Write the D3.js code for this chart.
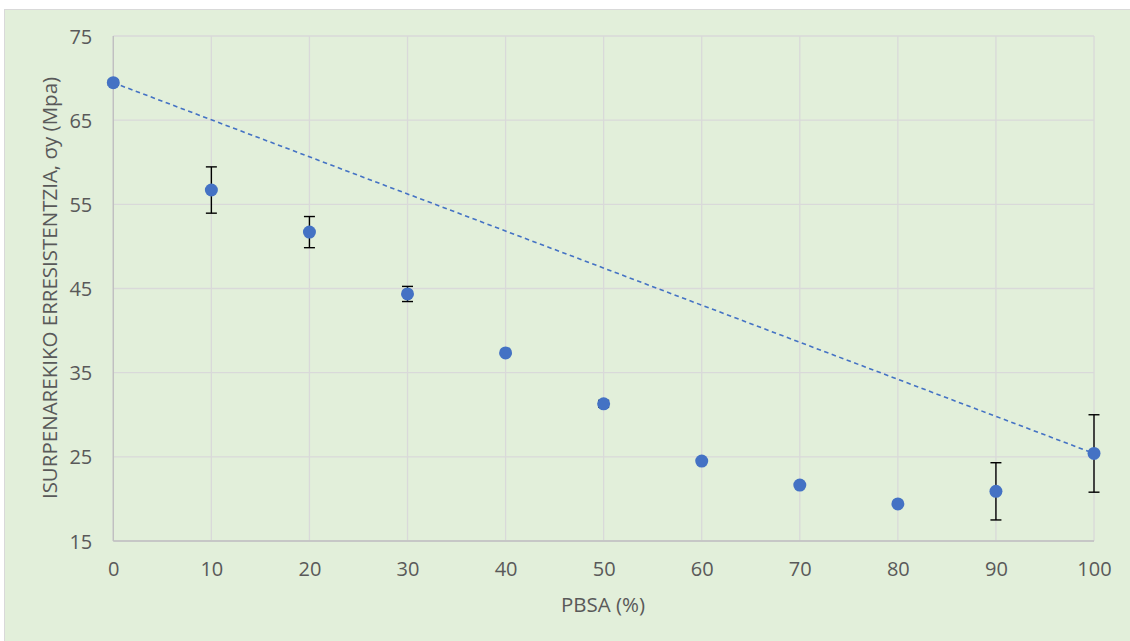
<!DOCTYPE html>
<html><head><meta charset="utf-8">
<script src="https://cdn.jsdelivr.net/npm/d3@7"></script>
<style>body{margin:0;background:#fff;} text{font-family:"Open Sans",Lato,sans-serif;}</style>
</head><body>
<svg id="c" width="1130" height="641"></svg>
<script>
const pbsa = [0,10,20,30,40,50,60,70,80,90,100];
const strength = [69.45,56.7,51.7,44.35,37.35,31.3,24.5,21.65,19.4,20.9,25.4];
const errors = [0.3,2.75,1.85,0.9,0.2,0.4,0,0,0,3.4,4.6];
const trendX = [0,100];
const trendY = [69.45,25.4];
const xTicks = [0,10,20,30,40,50,60,70,80,90,100];
const yTicks = [15,25,35,45,55,65,75];

const svg = d3.select("#c");
svg.append("rect").attr("x",4.5).attr("y",9.5).attr("width",1130).attr("height",640)
  .attr("fill","#E2EFDA").attr("stroke","#D9D9D9");

const L=113.3,R=1094,T=36,B=541;
const x=d3.scaleLinear().domain([0,100]).range([L,R]);
const y=d3.scaleLinear().domain([15,75]).range([B,T]);

const g=svg.append("g");
g.selectAll(".gy").data(yTicks).join("line").attr("x1",L).attr("x2",R)
  .attr("y1",d=>y(d)).attr("y2",d=>y(d)).attr("stroke","#D9D9D9").attr("stroke-width",1.3);
g.selectAll(".gx").data(xTicks).join("line").attr("y1",T).attr("y2",B)
  .attr("x1",d=>x(d)).attr("x2",d=>x(d)).attr("stroke","#D9D9D9").attr("stroke-width",1.3);
g.append("line").attr("x1",L).attr("x2",R).attr("y1",B).attr("y2",B).attr("stroke","#BFBFBF").attr("stroke-width",1.3);
g.append("line").attr("x1",L).attr("x2",L).attr("y1",T).attr("y2",B).attr("stroke","#BFBFBF").attr("stroke-width",1.3);

const xAxis=d3.axisBottom(x).tickValues(xTicks).tickSize(0).tickPadding(0);
const ax=svg.append("g").attr("transform",`translate(0,${B})`).call(xAxis);
ax.select(".domain").remove();
ax.selectAll("text").attr("font-size",20).attr("fill","#595959").attr("font-family","Open Sans,sans-serif")
  .attr("dy",null).attr("y",35);
const yAxis=d3.axisLeft(y).tickValues(yTicks).tickSize(0).tickPadding(21);
const ay=svg.append("g").attr("transform",`translate(${L},0)`).call(yAxis);
ay.select(".domain").remove();
ay.selectAll("text").attr("font-size",20).attr("fill","#595959").attr("font-family","Open Sans,sans-serif")
  .attr("dy",null).attr("y",7);

const tl=trendX.map((d,i)=>[d,trendY[i]]);
svg.append("path").datum(tl).attr("d",d3.line().x(d=>x(d[0])).y(d=>y(d[1])))
  .attr("stroke","#4472C4").attr("stroke-width",1.6).attr("stroke-dasharray","4.5,3.5").attr("fill","none");

const data=pbsa.map((d,i)=>({x:d,y:strength[i],e:errors[i]}));
const eb=svg.append("g").attr("stroke","#000").attr("stroke-width",1.4);
data.filter(d=>d.e>0).forEach(d=>{
  eb.append("line").attr("x1",x(d.x)).attr("x2",x(d.x)).attr("y1",y(d.y-d.e)).attr("y2",y(d.y+d.e));
  eb.append("line").attr("x1",x(d.x)-5.5).attr("x2",x(d.x)+5.5).attr("y1",y(d.y-d.e)).attr("y2",y(d.y-d.e));
  eb.append("line").attr("x1",x(d.x)-5.5).attr("x2",x(d.x)+5.5).attr("y1",y(d.y+d.e)).attr("y2",y(d.y+d.e));
});
svg.selectAll(".pt").data(data).join("circle").attr("cx",d=>x(d.x)).attr("cy",d=>y(d.y))
  .attr("r",6.5).attr("fill","#4472C4");

svg.append("text").attr("x",603).attr("y",612).attr("text-anchor","middle")
  .attr("font-size",20.5).attr("fill","#595959").text("PBSA (%)");
svg.append("text").attr("transform",`translate(57,288) rotate(-90)`).attr("text-anchor","middle")
  .attr("font-size",20.5).attr("fill","#595959").text("ISURPENAREKIKO ERRESISTENTZIA, σy (Mpa)");
</script>
</body></html>
